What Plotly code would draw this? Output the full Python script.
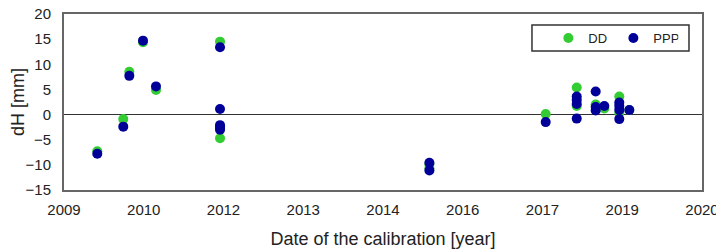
import plotly.graph_objects as go

# Data (decimal years)
dd_x = [2009.574, 2010.022, 2010.126, 2010.362, 2010.586, 2011.69, 2011.69, 2011.69,
        2015.30, 2015.30, 2017.305, 2017.84, 2017.84, 2018.167, 2018.316, 2018.574, 2018.574, 2018.747]
dd_y = [-7.3, -0.9, 8.5, 14.4, 4.9, 14.5, -2.3, -4.7,
        -9.9, -10.7, 0.1, 5.4, 1.7, 2.0, 1.2, 3.6, 0.3, 0.9]

ppp_x = [2009.574, 2010.022, 2010.126, 2010.362, 2010.586, 2011.69, 2011.69, 2011.69, 2011.69, 2011.69,
         2015.30, 2015.30, 2017.305, 2017.84, 2017.84, 2017.84, 2017.84, 2018.167, 2018.167, 2018.167,
         2018.316, 2018.574, 2018.574, 2018.574, 2018.574, 2018.747]
ppp_y = [-7.8, -2.4, 7.7, 14.7, 5.6, 13.4, 1.1, -2.1, -2.6, -3.0,
         -9.6, -11.1, -1.5, 3.6, 2.9, 2.1, -0.8, 4.6, 1.5, 0.8,
         1.7, 2.4, 1.7, 0.9, -0.9, 0.9]

tick_labels = ["2009", "2010", "2012", "2013", "2014", "2016", "2017", "2019", "2020"]
tick_vals = [2009 + i * 11 / 8 for i in range(len(tick_labels))]
y_ticks = [-15, -10, -5, 0, 5, 10, 15, 20]

fig = go.Figure()
fig.add_trace(go.Scatter(x=dd_x, y=dd_y, mode="markers", name="DD",
                         marker=dict(color="#33CC33", size=10)))
fig.add_trace(go.Scatter(x=ppp_x, y=ppp_y, mode="markers", name="PPP",
                         marker=dict(color="#000099", size=10)))

font = dict(family="Liberation Sans, Arial, sans-serif", size=15, color="#222222")
fig.update_layout(
    width=716, height=242,
    margin=dict(l=56, r=22, t=6, b=60, autoexpand=False),
    paper_bgcolor="white", plot_bgcolor="white",
    font=font,
    showlegend=True,
    legend=dict(orientation="h", x=0.7592, y=0.8636, xanchor="left", yanchor="middle",
                bgcolor="rgba(0,0,0,0)", borderwidth=0,
                font=dict(size=13, color="#222222"), itemwidth=30,
                entrywidth=20, tracegroupgap=0),
    shapes=[dict(type="rect", xref="paper", yref="paper",
                 x0=0.7335, x1=0.9796, y0=0.7898, y1=0.9375,
                 line=dict(color="#333333", width=1.5), fillcolor="rgba(0,0,0,0)",
                 layer="below")],
    xaxis=dict(range=[2009, 2020], tickvals=tick_vals, ticktext=tick_labels,
               showgrid=False, zeroline=False, showline=True, mirror=True,
               linecolor="#666666", linewidth=2, ticks="", automargin=False,
               ticklabelstandoff=5, ticklabeloverflow="allow",
               title=dict(text="Date of the calibration [year]", standoff=15)),
    yaxis=dict(range=[-15, 20], tickvals=y_ticks, showgrid=False,
               zeroline=True, zerolinecolor="#333333", zerolinewidth=1,
               showline=True, mirror=True, linecolor="#666666", linewidth=2,
               ticks="", automargin=False, ticklabelstandoff=8,
               ticklabeloverflow="allow",
               title=dict(text="dH [mm]", standoff=6)),
)

fig.write_html("out.html")
